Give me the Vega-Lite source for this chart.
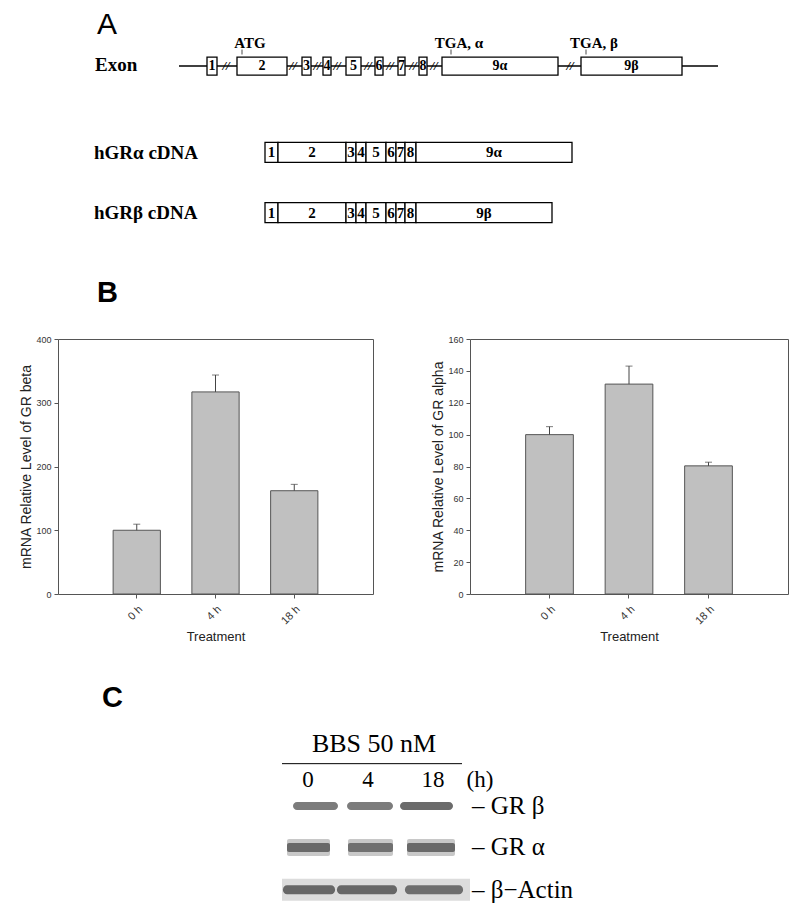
{
  "$schema": "https://vega.github.io/schema/vega-lite/v6.json",
  "padding": {"left": 19, "top": 0, "right": 0, "bottom": 0},
  "background": "white",
  "spacing": 0,
  "config": {
    "view": {"stroke": null},
    "font": "Liberation Sans",
    "axis": {"labelFont": "Liberation Sans", "titleFont": "Liberation Sans", "grid": false}
  },
  "datasets": {
    "backbone": [{"row": 63, "pos": 179, "end": 718}],
    "exonBoxes": [
      {"row": 63, "pos": 207, "end": 217, "label": "1"},
      {"row": 63, "pos": 237, "end": 287, "label": "2"},
      {"row": 63, "pos": 302, "end": 311, "label": "3"},
      {"row": 63, "pos": 323, "end": 331, "label": "4"},
      {"row": 63, "pos": 346, "end": 361, "label": "5"},
      {"row": 63, "pos": 375, "end": 383, "label": "6"},
      {"row": 63, "pos": 398, "end": 405, "label": "7"},
      {"row": 63, "pos": 419, "end": 427, "label": "8"},
      {"row": 63, "pos": 442, "end": 558, "label": "9α"},
      {"row": 63, "pos": 581, "end": 682, "label": "9β"}
    ],
    "cdnaBoxes": [
      {"row": 152, "pos": 265, "end": 278, "label": "1"},
      {"row": 152, "pos": 278, "end": 346, "label": "2"},
      {"row": 152, "pos": 346, "end": 356, "label": "3"},
      {"row": 152, "pos": 356, "end": 366, "label": "4"},
      {"row": 152, "pos": 366, "end": 386, "label": "5"},
      {"row": 152, "pos": 386, "end": 396, "label": "6"},
      {"row": 152, "pos": 396, "end": 405, "label": "7"},
      {"row": 152, "pos": 405, "end": 416, "label": "8"},
      {"row": 152, "pos": 416, "end": 572, "label": "9α"},
      {"row": 214, "pos": 265, "end": 278, "label": "1"},
      {"row": 214, "pos": 278, "end": 346, "label": "2"},
      {"row": 214, "pos": 346, "end": 356, "label": "3"},
      {"row": 214, "pos": 356, "end": 366, "label": "4"},
      {"row": 214, "pos": 366, "end": 386, "label": "5"},
      {"row": 214, "pos": 386, "end": 396, "label": "6"},
      {"row": 214, "pos": 396, "end": 405, "label": "7"},
      {"row": 214, "pos": 405, "end": 416, "label": "8"},
      {"row": 214, "pos": 416, "end": 552, "label": "9β"}
    ],
    "breaks": [
      {"row": 63, "pos": 226}, {"row": 63, "pos": 293}, {"row": 63, "pos": 317},
      {"row": 63, "pos": 337}, {"row": 63, "pos": 368}, {"row": 63, "pos": 390},
      {"row": 63, "pos": 413}, {"row": 63, "pos": 434}, {"row": 63, "pos": 570}
    ],
    "sites": [
      {"row": 63, "pos": 242, "label": "ATG"},
      {"row": 63, "pos": 451, "label": "TGA, α"},
      {"row": 63, "pos": 586, "label": "TGA, β"}
    ],
    "tracks": [
      {"row": 62, "pos": 95, "label": "Exon"},
      {"row": 153, "pos": 94, "label": "hGRα cDNA"},
      {"row": 214, "pos": 94, "label": "hGRβ cDNA"}
    ],
    "gr": [
      {"time": "0 h", "beta": 100, "betaUp": 109.5, "alpha": 100, "alphaUp": 105},
      {"time": "4 h", "beta": 317, "betaUp": 343.5, "alpha": 131.7, "alphaUp": 143},
      {"time": "18 h", "beta": 162, "betaUp": 172, "alpha": 80.4, "alphaUp": 82.7}
    ],
    "blotBg": [{"row": 889, "pos": 282, "end": 470}],
    "bands": [
      {"protein": "GR β", "lane": "0", "row": 802, "pos": 293, "end": 338, "density": 0.72},
      {"protein": "GR β", "lane": "4", "row": 802, "pos": 347, "end": 393, "density": 0.72},
      {"protein": "GR β", "lane": "18", "row": 802, "pos": 400, "end": 453, "density": 0.82},
      {"protein": "GR α", "lane": "0", "row": 845, "pos": 287, "end": 330, "density": 0.75},
      {"protein": "GR α", "lane": "4", "row": 845, "pos": 348, "end": 393, "density": 0.7},
      {"protein": "GR α", "lane": "18", "row": 845, "pos": 407, "end": 455, "density": 0.75},
      {"protein": "β−Actin", "lane": "0", "row": 889, "pos": 283, "end": 335, "density": 0.8},
      {"protein": "β−Actin", "lane": "4", "row": 889, "pos": 337, "end": 397, "density": 0.8},
      {"protein": "β−Actin", "lane": "18", "row": 889, "pos": 405, "end": 463, "density": 0.75}
    ],
    "bbsRule": [{"row": 758, "pos": 282, "end": 462}],
    "lanes": [
      {"row": 775, "pos": 308, "label": "0"},
      {"row": 775, "pos": 368, "label": "4"},
      {"row": 775, "pos": 433, "label": "18"},
      {"row": 775, "pos": 480, "label": "(h)"}
    ],
    "proteins": [
      {"row": 802, "pos": 472, "label": "–  GR β"},
      {"row": 845, "pos": 472, "label": "–  GR α"},
      {"row": 889, "pos": 472, "label": "–  β−Actin"}
    ]
  },
  "vconcat": [
    {
      "width": 742,
      "height": 334,
      "encoding": {
        "x": {"field": "pos", "type": "quantitative", "scale": {"domain": [58, 800], "nice": false, "zero": false}, "axis": null},
        "y": {"field": "row", "type": "quantitative", "scale": {"domain": [0, 334], "reverse": true, "nice": false, "zero": false}, "axis": null}
      },
      "layer": [
        {"data": {"name": "backbone"}, "mark": {"type": "rule", "color": "black", "strokeWidth": 1.5}, "encoding": {"x2": {"field": "end"}}},
        {"data": {"name": "exonBoxes"}, "mark": {"type": "bar", "orient": "horizontal", "size": 18, "fill": "white", "stroke": "black", "strokeWidth": 1.3}, "encoding": {"x2": {"field": "end"}}},
        {"data": {"name": "exonBoxes"}, "transform": [{"calculate": "(datum.pos + datum.end) / 2", "as": "mid"}],
         "mark": {"type": "text", "font": "Liberation Serif", "fontWeight": "bold", "fontSize": 14, "baseline": "middle", "align": "center", "color": "black"},
         "encoding": {"x": {"field": "mid", "type": "quantitative", "axis": null}, "text": {"field": "label"}}},
        {"data": {"name": "cdnaBoxes"}, "mark": {"type": "bar", "orient": "horizontal", "size": 20, "fill": "white", "stroke": "black", "strokeWidth": 1.3}, "encoding": {"x2": {"field": "end"}}},
        {"data": {"name": "cdnaBoxes"}, "transform": [{"calculate": "(datum.pos + datum.end) / 2", "as": "mid"}],
         "mark": {"type": "text", "font": "Liberation Serif", "fontWeight": "bold", "fontSize": 15, "baseline": "middle", "align": "center", "color": "black"},
         "encoding": {"x": {"field": "mid", "type": "quantitative", "axis": null}, "text": {"field": "label"}}},
        {"data": {"name": "breaks"}, "mark": {"type": "text", "text": "//", "font": "Liberation Serif", "fontStyle": "italic", "fontWeight": "bold", "fontSize": 13, "baseline": "middle", "align": "center", "color": "black"}},
        {"data": {"name": "sites"}, "mark": {"type": "tick", "orient": "vertical", "size": 5, "thickness": 1, "yOffset": -14, "color": "black"}},
        {"data": {"name": "sites"}, "mark": {"type": "text", "font": "Liberation Serif", "fontWeight": "bold", "fontSize": 15, "baseline": "middle", "align": "center", "dx": 8, "dy": -23, "color": "black"}, "encoding": {"text": {"field": "label"}}},
        {"data": {"name": "tracks"}, "mark": {"type": "text", "font": "Liberation Serif", "fontWeight": "bold", "fontSize": 19, "baseline": "middle", "align": "left", "color": "black"}, "encoding": {"text": {"field": "label"}}},
        {"data": {"values": [{"row": 21, "pos": 97, "label": "A"}]}, "mark": {"type": "text", "font": "Liberation Sans", "fontSize": 30, "baseline": "middle", "align": "left", "color": "black"}, "encoding": {"text": {"field": "label"}}},
        {"data": {"values": [{"row": 297, "pos": 97, "label": "B"}]}, "mark": {"type": "text", "font": "Liberation Sans", "fontWeight": "bold", "fontSize": 29, "baseline": "middle", "align": "left", "color": "black"}, "encoding": {"text": {"field": "label"}}}
      ]
    },
    {
      "spacing": 57,
      "hconcat": [
        {
          "width": 315,
          "height": 255,
          "view": {"stroke": "#555", "strokeWidth": 1},
          "data": {"name": "gr"},
          "encoding": {
            "x": {"field": "time", "type": "nominal", "sort": ["0 h", "4 h", "18 h"], "title": "Treatment",
                  "scale": {"paddingInner": 0.4, "paddingOuter": 0.7},
                  "axis": {"labelAngle": -45, "labelAlign": "right", "labelBaseline": "top", "labelFontSize": 11, "labelColor": "#333", "labelPadding": 5, "tickSize": 4, "tickColor": "#555", "domain": false, "titleFontSize": 13, "titleFontWeight": "normal", "titleColor": "#222", "titlePadding": 5}}
          },
          "layer": [
            {"mark": {"type": "bar", "fill": "#c0c0c0", "stroke": "#555", "strokeWidth": 1},
             "encoding": {"y": {"field": "beta", "type": "quantitative", "title": "mRNA Relative Level of GR beta", "scale": {"domain": [0, 400], "nice": false},
               "axis": {"values": [0, 100, 200, 300, 400], "labelOverlap": false, "labelFontSize": 9, "labelColor": "#333", "labelPadding": 3, "tickSize": 4, "tickColor": "#555", "domain": false, "titleFontSize": 14, "titleFontWeight": "normal", "titleColor": "#222", "titlePadding": 2}}}},
            {"mark": {"type": "rule", "color": "#444", "strokeWidth": 1},
             "encoding": {"y": {"field": "beta", "type": "quantitative", "title": "mRNA Relative Level of GR beta", "scale": {"domain": [0, 400], "nice": false},
               "axis": {"values": [0, 100, 200, 300, 400], "labelOverlap": false, "labelFontSize": 9, "labelColor": "#333", "labelPadding": 3, "tickSize": 4, "tickColor": "#555", "domain": false, "titleFontSize": 14, "titleFontWeight": "normal", "titleColor": "#222", "titlePadding": 2}}, "y2": {"field": "betaUp"}}},
            {"mark": {"type": "tick", "color": "#444", "size": 7, "thickness": 1},
             "encoding": {"y": {"field": "betaUp", "type": "quantitative", "title": "mRNA Relative Level of GR beta", "scale": {"domain": [0, 400], "nice": false},
               "axis": {"values": [0, 100, 200, 300, 400], "labelOverlap": false, "labelFontSize": 9, "labelColor": "#333", "labelPadding": 3, "tickSize": 4, "tickColor": "#555", "domain": false, "titleFontSize": 14, "titleFontWeight": "normal", "titleColor": "#222", "titlePadding": 2}}}}
          ]
        },
        {
          "width": 318,
          "height": 255,
          "view": {"stroke": "#555", "strokeWidth": 1},
          "data": {"name": "gr"},
          "encoding": {
            "x": {"field": "time", "type": "nominal", "sort": ["0 h", "4 h", "18 h"], "title": "Treatment",
                  "scale": {"paddingInner": 0.4, "paddingOuter": 0.7},
                  "axis": {"labelAngle": -45, "labelAlign": "right", "labelBaseline": "top", "labelFontSize": 11, "labelColor": "#333", "labelPadding": 5, "tickSize": 4, "tickColor": "#555", "domain": false, "titleFontSize": 13, "titleFontWeight": "normal", "titleColor": "#222", "titlePadding": 5}}
          },
          "layer": [
            {"mark": {"type": "bar", "fill": "#c0c0c0", "stroke": "#555", "strokeWidth": 1},
             "encoding": {"y": {"field": "alpha", "type": "quantitative", "title": "mRNA Relative Level of GR alpha", "scale": {"domain": [0, 160], "nice": false},
               "axis": {"values": [0, 20, 40, 60, 80, 100, 120, 140, 160], "tickCount": 9, "labelOverlap": false, "labelFontSize": 9, "labelColor": "#333", "labelPadding": 3, "tickSize": 4, "tickColor": "#555", "domain": false, "titleFontSize": 14, "titleFontWeight": "normal", "titleColor": "#222", "titlePadding": 2}}}},
            {"mark": {"type": "rule", "color": "#444", "strokeWidth": 1},
             "encoding": {"y": {"field": "alpha", "type": "quantitative", "title": "mRNA Relative Level of GR alpha", "scale": {"domain": [0, 160], "nice": false},
               "axis": {"values": [0, 20, 40, 60, 80, 100, 120, 140, 160], "tickCount": 9, "labelOverlap": false, "labelFontSize": 9, "labelColor": "#333", "labelPadding": 3, "tickSize": 4, "tickColor": "#555", "domain": false, "titleFontSize": 14, "titleFontWeight": "normal", "titleColor": "#222", "titlePadding": 2}}, "y2": {"field": "alphaUp"}}},
            {"mark": {"type": "tick", "color": "#444", "size": 7, "thickness": 1},
             "encoding": {"y": {"field": "alphaUp", "type": "quantitative", "title": "mRNA Relative Level of GR alpha", "scale": {"domain": [0, 160], "nice": false},
               "axis": {"values": [0, 20, 40, 60, 80, 100, 120, 140, 160], "tickCount": 9, "labelOverlap": false, "labelFontSize": 9, "labelColor": "#333", "labelPadding": 3, "tickSize": 4, "tickColor": "#555", "domain": false, "titleFontSize": 14, "titleFontWeight": "normal", "titleColor": "#222", "titlePadding": 2}}}}
          ]
        }
      ]
    },
    {
      "width": 742,
      "height": 272,
      "encoding": {
        "x": {"field": "pos", "type": "quantitative", "scale": {"domain": [58, 800], "nice": false, "zero": false}, "axis": null},
        "y": {"field": "row", "type": "quantitative", "scale": {"domain": [640, 912], "reverse": true, "nice": false, "zero": false}, "axis": null}
      },
      "layer": [
        {"data": {"name": "blotBg"}, "mark": {"type": "bar", "orient": "horizontal", "size": 22, "fill": "#dcdcdc"}, "encoding": {"x2": {"field": "end"}}},
        {"data": {"name": "bands"}, "transform": [{"filter": "datum.protein === 'GR β'"}], "mark": {"type": "bar", "orient": "horizontal", "size": 8, "fill": "#4a4a4a", "cornerRadius": 4}, "encoding": {"x2": {"field": "end"}, "opacity": {"field": "density", "type": "quantitative", "scale": null}}},
        {"data": {"name": "bands"}, "transform": [{"filter": "datum.protein === 'GR α'"}], "mark": {"type": "bar", "orient": "horizontal", "size": 17, "fill": "#4a4a4a", "opacity": 0.3, "cornerRadius": 2}, "encoding": {"x2": {"field": "end"}}},
        {"data": {"name": "bands"}, "transform": [{"filter": "datum.protein === 'GR α'"}], "mark": {"type": "bar", "orient": "horizontal", "size": 9, "fill": "#4a4a4a", "cornerRadius": 2}, "encoding": {"x2": {"field": "end"}, "opacity": {"field": "density", "type": "quantitative", "scale": null}}},
        {"data": {"name": "bands"}, "transform": [{"filter": "datum.protein === 'β−Actin'"}], "mark": {"type": "bar", "orient": "horizontal", "size": 9, "fill": "#4a4a4a", "cornerRadius": 4}, "encoding": {"x2": {"field": "end"}, "opacity": {"field": "density", "type": "quantitative", "scale": null}}},
        {"data": {"name": "bbsRule"}, "mark": {"type": "rule", "color": "black", "strokeWidth": 1}, "encoding": {"x2": {"field": "end"}}},
        {"data": {"values": [{"row": 738, "pos": 374, "label": "BBS  50 nM"}]}, "mark": {"type": "text", "font": "Liberation Serif", "fontSize": 26, "baseline": "middle", "align": "center", "color": "black"}, "encoding": {"text": {"field": "label"}}},
        {"data": {"name": "lanes"}, "mark": {"type": "text", "font": "Liberation Serif", "fontSize": 23, "baseline": "middle", "align": "center", "color": "black"}, "encoding": {"text": {"field": "label"}}},
        {"data": {"name": "proteins"}, "mark": {"type": "text", "font": "Liberation Serif", "fontSize": 25, "baseline": "middle", "align": "left", "color": "black"}, "encoding": {"text": {"field": "label"}}},
        {"data": {"values": [{"row": 690, "pos": 102, "label": "C"}]}, "mark": {"type": "text", "font": "Liberation Sans", "fontWeight": "bold", "fontSize": 29, "baseline": "middle", "align": "left", "color": "black"}, "encoding": {"text": {"field": "label"}}}
      ]
    }
  ]
}
